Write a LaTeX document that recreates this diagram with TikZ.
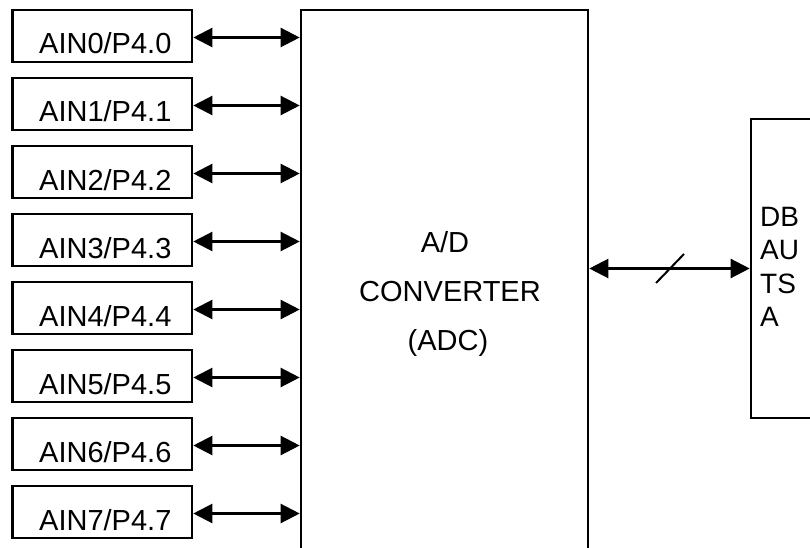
\documentclass[tikz,border=0pt]{standalone}
\usepackage{fontspec}
\setmainfont{Liberation Sans}
\usetikzlibrary{arrows.meta}
\begin{document}
\begin{tikzpicture}[x=1pt,y=-1pt,
  pinbox/.style={draw,line width=2.6pt,rectangle,inner sep=0pt,minimum width=179.3pt,minimum height=52pt},
  bigbox/.style={draw,line width=2.6pt,rectangle,inner sep=0pt},
  lbl/.style={font=\fontsize{29}{34}\selectfont,inner sep=0pt,anchor=base west},
  clbl/.style={font=\fontsize{29}{34}\selectfont,inner sep=0pt,anchor=base},
  rlbl/.style={font=\fontsize{28}{33}\selectfont,inner sep=0pt,anchor=base west},
  biarrow/.style={line width=2.3pt,{Triangle[length=19pt,width=19pt]}-{Triangle[length=19pt,width=19pt]}}
]
\clip (0,0) rectangle (810,548);
\fill[white] (0,0) rectangle (810,548);
% ADC box (extends below the picture)
\node[bigbox,minimum width=287pt,minimum height=560pt] (adc) at (444.5,290) {};
\node[clbl] (t1) at (445,252) {A/D};
\node[clbl] (t2) at (450,301) {CONVERTER};
\node[clbl] (t3) at (448,350) {(ADC)};
% Data bus box (extends to the right)
\node[bigbox,minimum width=79pt,minimum height=299pt] (dbus) at (790.5,268.5) {};
\node[rlbl] (r1) at (760,226) {DB};
\node[rlbl] (r2) at (760,259.5) {AU};
\node[rlbl] (r3) at (760,293) {TS};
\node[rlbl] (r4) at (760,326.5) {A};
% pins
\foreach \i [evaluate=\i as \t using 10+68*\i] in {0,...,7}{
  \node[pinbox] (b\i) at (102.35,\t+26) {};
  \node[lbl] (l\i) at (39,\t+44) {AIN\i/P4.\i};
  \coordinate (s\i) at ([yshift=-1.5pt]b\i.east);
  \draw[biarrow] (s\i) -- (adc.west |- s\i);
}
% bus arrow
\draw[biarrow] (adc.east |- dbus.west) -- (dbus.west);
\path (adc.east |- dbus.west) -- (dbus.west) coordinate[pos=0.5] (mid);
\draw[line width=2pt] ([shift={(-13.5,14.5)}]mid) -- ([shift={(14.5,-14.5)}]mid);
\end{tikzpicture}
\end{document}
